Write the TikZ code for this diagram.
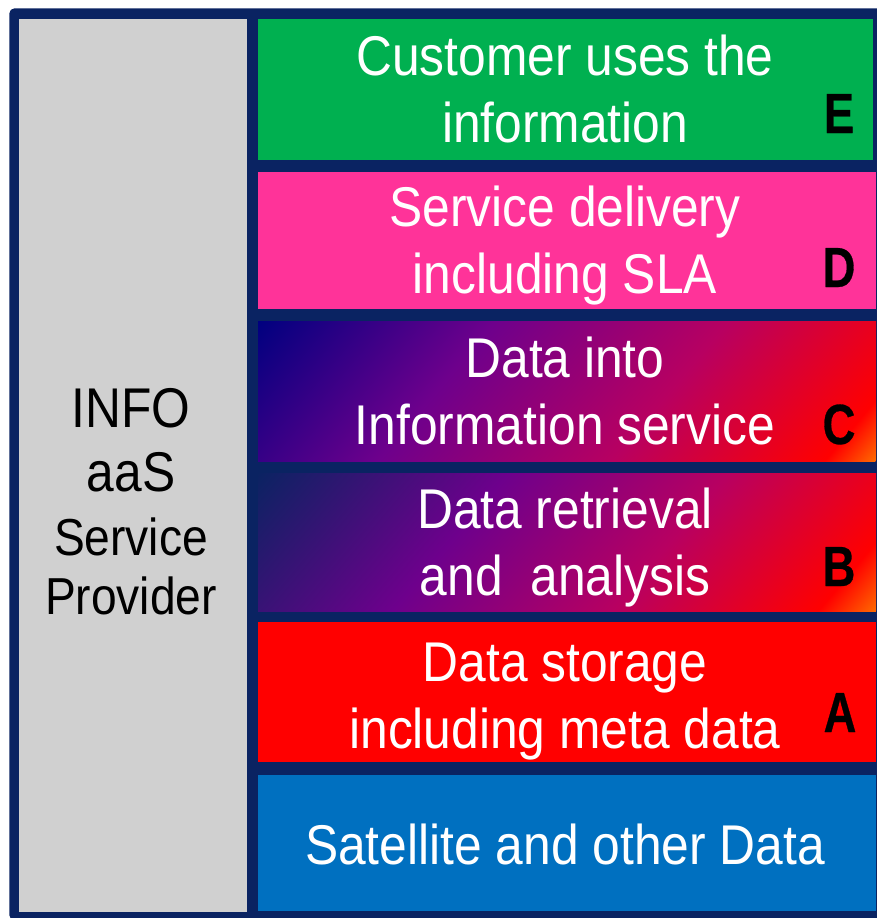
\documentclass[tikz,border=0pt]{standalone}
\usepackage{fontspec}
\setmainfont[FakeStretch=0.888]{Liberation Sans}
\newfontfamily\letterfont[FakeStretch=0.8,FakeBold=0.5]{Liberation Sans}
\definecolor{frameblue}{RGB}{10,35,98}
\definecolor{panelgray}{RGB}{208,208,208}
\definecolor{boxgreen}{RGB}{0,176,80}
\definecolor{boxpink}{RGB}{255,51,153}
\definecolor{boxred}{RGB}{255,0,0}
\definecolor{boxblue}{RGB}{0,112,192}
\pgfdeclarehorizontalshading{gradC}{100bp}{rgb(0bp)=(0,0,.5); rgb(25bp)=(0,0,.5); rgb(41bp)=(.43,0,.55); rgb(57bp)=(.72,0,.38); rgb(71.5bp)=(1,0,0); rgb(75bp)=(1,.42,0); rgb(100bp)=(1,.42,0)}
\pgfdeclarehorizontalshading{gradB}{100bp}{rgb(0bp)=(.04,.137,.384); rgb(25bp)=(.04,.137,.384); rgb(42bp)=(.43,0,.55); rgb(57bp)=(.72,0,.38); rgb(71bp)=(1,0,0); rgb(75bp)=(1,.42,0); rgb(100bp)=(1,.42,0)}
\tikzset{
  x=0.75pt,y=-0.75pt,
  framebox/.style={fill=frameblue,rounded corners=4pt,inner sep=0pt,minimum width=660pt,minimum height=684pt,anchor=north west},
  panel/.style={inner sep=0pt,anchor=north west,minimum width=#1*0.75pt},
  lbl/.style={text=white,align=center,anchor=base,inner sep=0pt,font=\fontsize{42}{50.25}\selectfont},
  side/.style={text=black,anchor=base,inner sep=0pt,font=\fontsize{#1}{#1}\selectfont},
  letter/.style={text=black,anchor=base,inner sep=0pt,font=\fontsize{42.5}{42.5}\letterfont\bfseries}
}
\newcommand{\gradbox}[6]{% x1,y1,x2,y2,shading,angle
  \begin{scope}
    \clip (#1,#2) rectangle (#3,#4);
    \begin{scope}[transform canvas={shift={({(#1+#3)/2},{(#2+#4)/2})},rotate=-#6}]
      \shade[shading=#5] (-281.5,-500) rectangle (281.5,500);
    \end{scope}
  \end{scope}
}
\begin{document}
\begin{tikzpicture}
\useasboundingbox (0,0) rectangle (877,918);
\node[framebox] (frame) at (9,8) {};
\node[panel=228,fill=panelgray,minimum height=669.75pt] (left) at (19,19) {};
\node[panel=615,fill=boxgreen,minimum height=105.75pt] (boxE) at (258,19) {};
\node[panel=618,fill=boxpink,minimum height=102.75pt] (boxD) at (258,172) {};
\gradbox{258}{321}{876}{461}{gradC}{40}
\gradbox{258}{473}{876}{611}{gradB}{40}
\node[panel=618,fill=boxred,minimum height=105pt] (boxA) at (258,622) {};
\node[panel=618,fill=boxblue,minimum height=102pt] (boxS) at (258,775) {};
\node[lbl] (tE) at (565,142) {Customer uses the\\information};
\node[lbl] (tD) at (565,293) {Service delivery\\including SLA};
\node[lbl] (tC) at (565,444) {Data into\\Information service};
\node[lbl] (tB) at (565,595) {Data retrieval\\and\ \ analysis};
\node[lbl] (tA) at (565,748) {Data storage\\including meta data};
\node[lbl] (tS) at (565,864) {Satellite and other Data};
\node[letter] (lE) at (839,133) {E};
\node[letter] (lD) at (839,287) {D};
\node[letter] (lC) at (839,444) {C};
\node[letter] (lB) at (839,586) {B};
\node[letter] (lA) at (840,732) {A};
\node[side=42] (s1) at (131,427) {INFO};
\node[side=42] (s2) at (131,491) {aaS};
\node[side=39] (s3) at (131,555) {Service};
\node[side=39] (s4) at (131,614) {Provider};
\end{tikzpicture}
\end{document}
